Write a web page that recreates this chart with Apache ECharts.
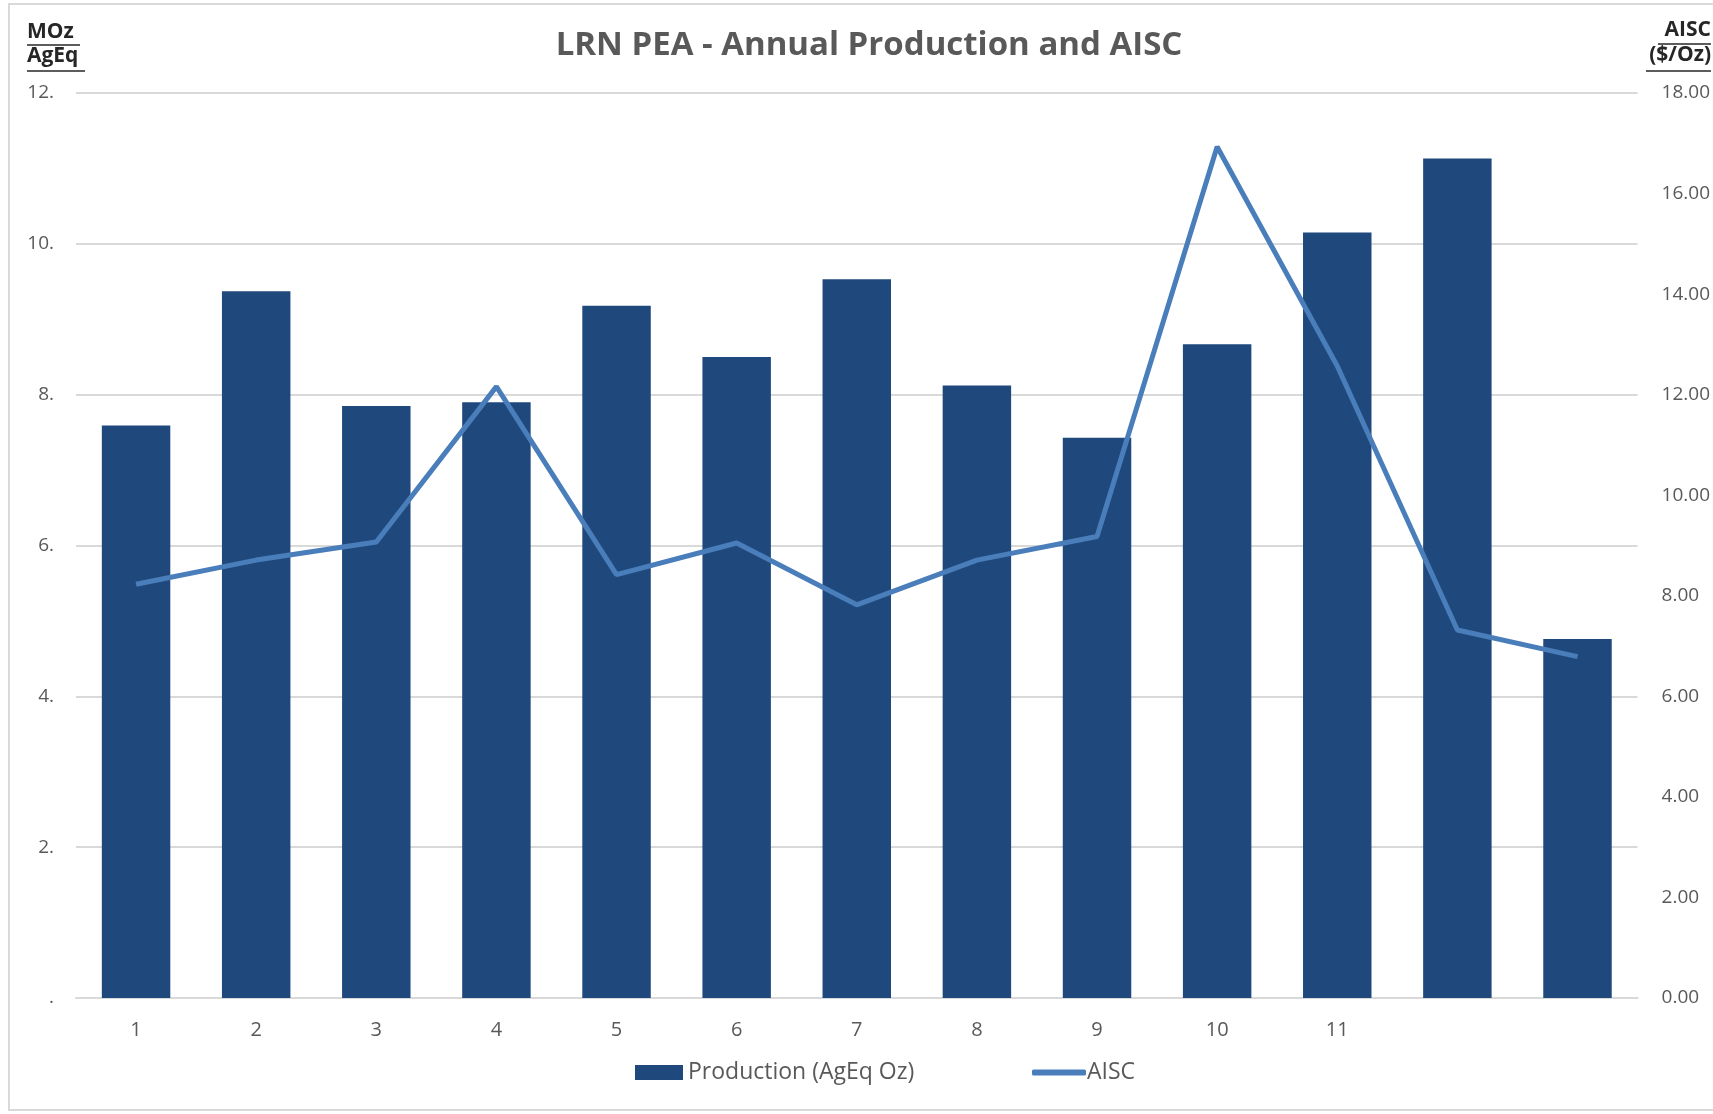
<!DOCTYPE html>
<html>
<head>
<meta charset="utf-8">
<script src="https://cdn.jsdelivr.net/npm/echarts@6/dist/echarts.min.js"></script>
<style>
  html, body { margin: 0; padding: 0; background: #fff; }
  #main { width: 1713px; height: 1114px; }
</style>
</head>
<body>
<div id="main"></div>
<script>
// years 12 and 13 have no label in the original
var years = ['1', '2', '3', '4', '5', '6', '7', '8', '9', '10', '11', '', ''];
var production = [7.59, 9.37, 7.85, 7.90, 9.18, 8.50, 9.53, 8.12, 7.43, 8.67, 10.15, 11.13, 4.76];
var aisc = [8.23, 8.71, 9.07, 12.16, 8.42, 9.05, 7.82, 8.71, 9.18, 16.93, 12.57, 7.32, 6.79];

var font = 'Open Sans';
var grey = '#595959';
var barColor = '#1f497d';
var lineColor = '#4a7ebb';

var chart = echarts.init(document.getElementById('main'));

var option = {
  animation: false,
  textStyle: { fontFamily: font },
  title: {
    text: 'LRN PEA - Annual Production and AISC',
    left: 864,
    top: 24,
    textAlign: 'center',
    textStyle: { fontSize: 33, fontWeight: 'bold', color: grey, fontFamily: font }
  },
  legend: [
    {
      left: 630,
      top: 1056,
      itemWidth: 48,
      itemHeight: 15,
      textStyle: { fontSize: 23, color: grey },
      data: [{ name: 'Production (AgEq Oz)', icon: 'rect' }]
    },
    {
      left: 1027,
      top: 1056,
      itemWidth: 54,
      itemHeight: 6,
      textStyle: { fontSize: 23, color: grey, padding: [0, 0, 0, -4] },
      data: [{ name: 'AISC', icon: 'roundRect', itemStyle: { color: lineColor } }]
    }
  ],
  grid: { left: 76, right: 75, top: 93, bottom: 116, containLabel: false },
  xAxis: {
    type: 'category',
    data: years,
    axisTick: { show: false },
    axisLine: { lineStyle: { color: '#d9d9d9', width: 2 } },
    axisLabel: { color: grey, fontSize: 20, margin: 22 }
  },
  yAxis: [
    {
      type: 'value',
      min: 0, max: 12, interval: 2,
      axisLabel: {
        color: grey, fontSize: 19, margin: 22,
        formatter: function (v) { return v === 0 ? '.' : v + '.'; }
      },
      splitLine: { lineStyle: { color: '#d9d9d9', width: 2 } }
    },
    {
      type: 'value',
      min: 0, max: 18, interval: 2,
      axisLabel: {
        color: grey, fontSize: 19, margin: 24,
        formatter: function (v) { return v.toFixed(2); }
      },
      splitLine: { show: false }
    }
  ],
  series: [
    {
      name: 'Production (AgEq Oz)',
      type: 'bar',
      data: production,
      barWidth: '57%',
      itemStyle: { color: barColor }
    },
    {
      name: 'AISC',
      type: 'line',
      yAxisIndex: 1,
      data: aisc,
      symbol: 'none',
      lineStyle: { color: lineColor, width: 5 },
      itemStyle: { color: lineColor }
    }
  ],
  graphic: [
    // chart frame
    { type: 'rect', shape: { x: 9, y: 4, width: 1720, height: 1106 }, style: { fill: null, stroke: '#d9d9d9', lineWidth: 2 }, silent: true },
    // left axis title
    { type: 'text', left: 27, top: 22, style: { text: 'MOz', font: 'bold 21px "Open Sans"', fill: '#262626' } },
    { type: 'line', shape: { x1: 27, y1: 45, x2: 80, y2: 45 }, style: { stroke: '#262626', lineWidth: 1.5 } },
    { type: 'text', left: 27, top: 46, style: { text: 'AgEq', font: 'bold 21px "Open Sans"', fill: '#262626' } },
    { type: 'line', shape: { x1: 27, y1: 71, x2: 85, y2: 71 }, style: { stroke: '#262626', lineWidth: 1.5 } },
    // right axis title
    { type: 'text', right: 2, top: 20, style: { text: 'AISC', font: 'bold 21px "Open Sans"', fill: '#262626' } },
    { type: 'line', shape: { x1: 1658, y1: 44, x2: 1711, y2: 44 }, style: { stroke: '#262626', lineWidth: 1.5 } },
    { type: 'text', right: 2, top: 45, style: { text: '($/Oz)', font: 'bold 21px "Open Sans"', fill: '#262626' } },
    { type: 'line', shape: { x1: 1646, y1: 71, x2: 1711, y2: 71 }, style: { stroke: '#262626', lineWidth: 1.5 } }
  ]
};

chart.setOption(option);
</script>
</body>
</html>
